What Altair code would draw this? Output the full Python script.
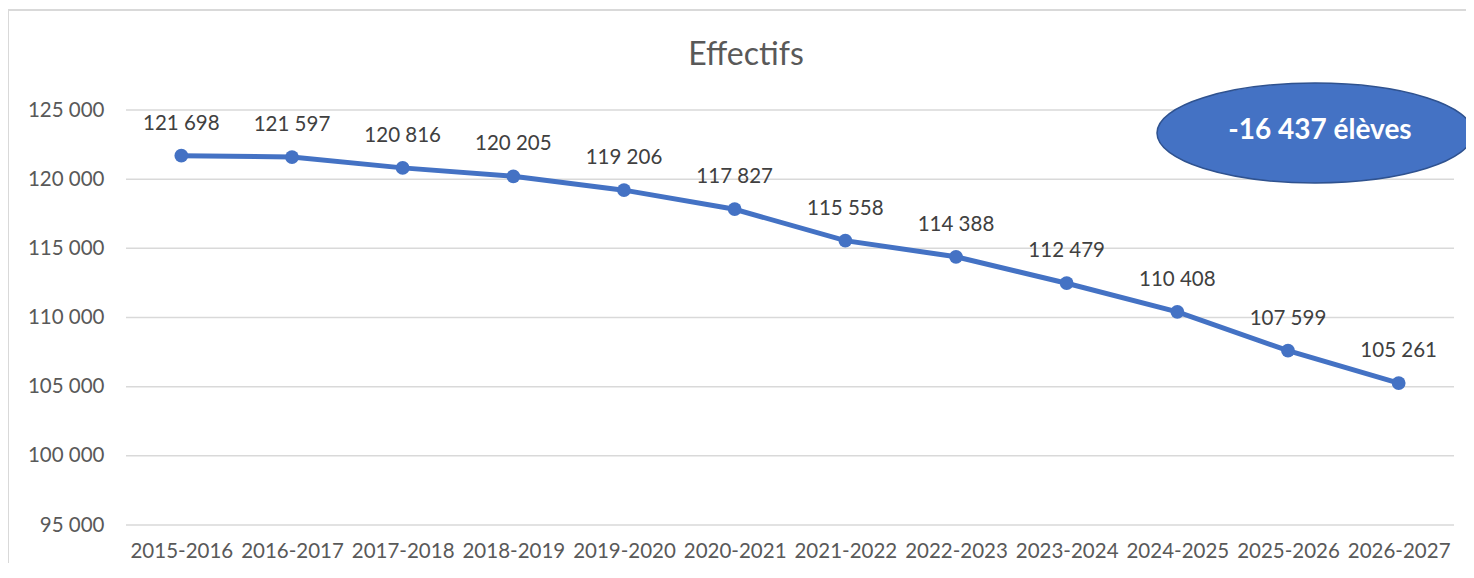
import altair as alt
import pandas as pd

years = ["2015-2016", "2016-2017", "2017-2018", "2018-2019", "2019-2020", "2020-2021",
         "2021-2022", "2022-2023", "2023-2024", "2024-2025", "2025-2026", "2026-2027"]
effectifs = [121698, 121597, 120816, 120205, 119206, 117827,
             115558, 114388, 112479, 110408, 107599, 105261]
labels = ["121 698", "121 597", "120 816", "120 205", "119 206", "117 827",
          "115 558", "114 388", "112 479", "110 408", "107 599", "105 261"]
y_ticks = [95000, 100000, 105000, 110000, 115000, 120000, 125000]
title_text = "Effectifs"
bubble_text = "-16 437 élèves"

df = pd.DataFrame({"annee": years, "effectif": effectifs, "label": labels})
grid_df = pd.DataFrame({"effectif": y_ticks})

FONT = "Lato"
BLUE = "#4472C4"
PLOT_W = 1328

y_scale = alt.Scale(domain=[95000, 125000], nice=False, zero=False)
y_axis = alt.Axis(values=y_ticks, labelExpr="replace(format(datum.value, ',d'), ',', ' ')",
                  labelFontSize=20.5, labelColor="#595959", labelFont=FONT,
                  domain=False, ticks=False, labelPadding=22, grid=False)

x_enc = alt.X("annee:N", sort=years, title=None,
              scale=alt.Scale(paddingInner=0, paddingOuter=0, range=[0, PLOT_W]),
              axis=alt.Axis(labelAngle=0, labelFontSize=20.5, labelColor="#595959",
                            labelFont=FONT, domain=False, ticks=False, labelPadding=16))
y_enc = alt.Y("effectif:Q", title=None, scale=y_scale, axis=y_axis)

base = alt.Chart(df)

border = alt.Chart(pd.DataFrame({"k": [0]})).mark_rect(
    fill=None, stroke="#D9D9D9", strokeWidth=2
).encode(x=alt.value(-118), x2=alt.value(1500), y=alt.value(-100), y2=alt.value(520))

grid = alt.Chart(grid_df).mark_rule(color="#D9D9D9", strokeWidth=1.5).encode(
    y=y_enc, x=alt.value(0), x2=alt.value(PLOT_W))

line = base.mark_line(color=BLUE, strokeWidth=5).encode(x=x_enc, y=y_enc)
points = base.mark_point(filled=True, color=BLUE, size=190, opacity=1).encode(x=x_enc, y=y_enc)
texts = base.mark_text(dy=-32, fontSize=20.5, font=FONT, color="#404040").encode(
    x=x_enc, y=y_enc, text="label:N")

title = alt.Chart(pd.DataFrame({"t": [title_text]})).mark_text(
    fontSize=32, font=FONT, color="#595959", baseline="middle", align="center"
).encode(x=alt.value(620), y=alt.value(-55), text="t:N")

ellipse_path = "M -1 0 A 1 0.316 0 1 1 1 0 A 1 0.316 0 1 1 -1 0 Z"
bubble = alt.Chart(pd.DataFrame({"t": [bubble_text]})).mark_point(
    shape=ellipse_path, filled=True, fill=BLUE, stroke="#2F528F", strokeWidth=1.5,
    size=316 * 316, opacity=1
).encode(x=alt.value(1189), y=alt.value(23))
bubble_label = alt.Chart(pd.DataFrame({"t": [bubble_text]})).mark_text(
    fontSize=28, font=FONT, fontWeight="bold", color="white", baseline="middle", align="center"
).encode(x=alt.value(1194), y=alt.value(21), text="t:N")

chart = alt.layer(border, grid, line, points, texts, title, bubble, bubble_label).properties(
    width=1340, height=415,
    background="white",
    autosize=alt.AutoSizeParams(type="none"),
    padding={"left": 118, "top": 102, "right": 0, "bottom": 38},
).configure_view(stroke=None)

chart.save("out.html", embed_options={"renderer": "svg", "actions": False})
